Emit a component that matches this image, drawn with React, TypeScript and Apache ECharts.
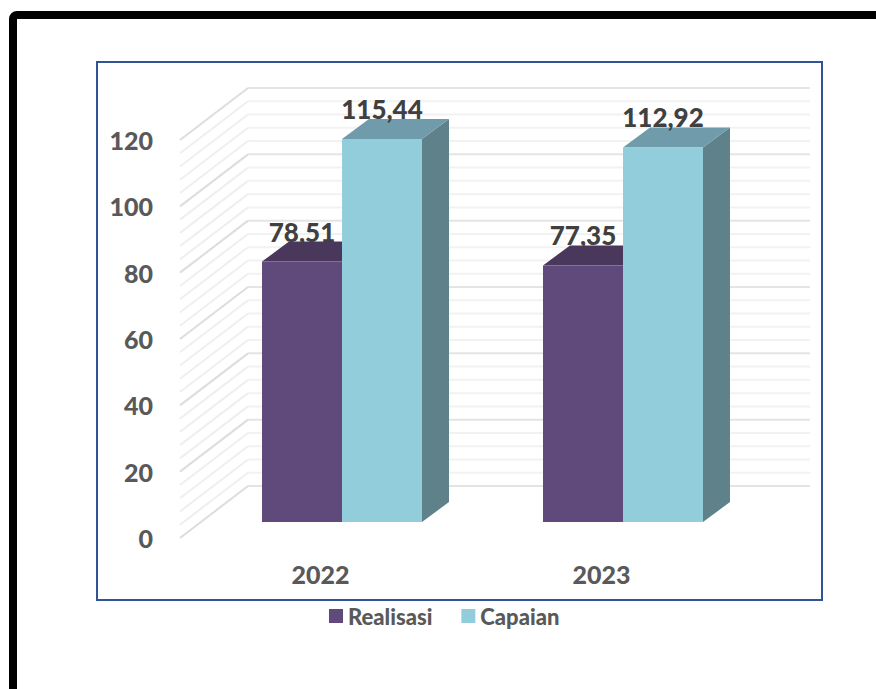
import React, { useEffect, useRef } from "react";
import * as echarts from "echarts";

const categories = ["2022", "2023"];
const realisasi = [78.51, 77.35];
const capaian = [115.44, 112.92];
const majorLevels = [0, 20, 40, 60, 80, 100, 120];
const minorLevels = [
  4, 8, 12, 16, 24, 28, 32, 36, 44, 48, 52, 56, 64, 68, 72, 76, 84, 88, 92, 96, 104, 108, 112, 116,
];

const FONT = "Lato";
const WALL_DX = 68;
const WALL_DY = -52;
const BAR_INSET_DX = 21.5;
const BAR_INSET_DY = -16;
const BAR_DX = 27;
const BAR_DY = -20;
const BAR_WIDTH = 80;

const formatValue = (v: number) => v.toFixed(2).replace(".", ",");

// Side wall diagonal plus back wall horizontal for one value level.
function wallRenderer(color: string, diagColor: string, width: number) {
  return (params: any, api: any) => {
    const cs = params.coordSys;
    const y = api.coord([0, api.value(1)])[1];
    const left = cs.x;
    const right = cs.x + cs.width + WALL_DX;
    return {
      type: "group",
      silent: true,
      children: [
        {
          type: "line",
          shape: { x1: left, y1: y, x2: left + WALL_DX, y2: y + WALL_DY },
          style: { stroke: diagColor, lineWidth: width, fill: "none" },
        },
        {
          type: "line",
          shape: { x1: left + WALL_DX, y1: y + WALL_DY, x2: right, y2: y + WALL_DY },
          style: { stroke: color, lineWidth: width, fill: "none" },
        },
      ],
    };
  };
}

// Extruded bar: front face, top and side faces, with the value above it.
function barRenderer(slot: number, front: string, top: string, side: string) {
  return (_params: any, api: any) => {
    const idx = api.value(0);
    const val = api.value(1);
    const [cx, yTop] = api.coord([idx, val]);
    const [, yBase] = api.coord([idx, 0]);
    const x0 = cx + BAR_INSET_DX + slot * BAR_WIDTH;
    const x1 = x0 + BAR_WIDTH;
    const yt = yTop + BAR_INSET_DY;
    const yb = yBase + BAR_INSET_DY;
    return {
      type: "group",
      children: [
        {
          type: "polygon",
          shape: { points: [[x1, yt], [x1 + BAR_DX, yt + BAR_DY], [x1 + BAR_DX, yb + BAR_DY], [x1, yb]] },
          style: { fill: side },
        },
        {
          type: "polygon",
          shape: { points: [[x0, yt], [x0 + BAR_DX, yt + BAR_DY], [x1 + BAR_DX, yt + BAR_DY], [x1, yt]] },
          style: { fill: top },
        },
        {
          type: "rect",
          shape: { x: x0, y: yt, width: BAR_WIDTH, height: yb - yt },
          style: { fill: front },
        },
        {
          type: "text",
          z2: 50,
          style: {
            x: x0 + BAR_WIDTH / 2,
            y: yt - 30,
            text: formatValue(val),
            align: "center",
            verticalAlign: "middle",
            font: `900 26px ${FONT}`,
            fill: "#404040",
          },
        },
      ],
    };
  };
}

export default function App() {
  const ref = useRef<HTMLDivElement>(null);

  useEffect(() => {
    const chart = echarts.init(ref.current!, null, { renderer: "svg" });
    chart.setOption({
      animation: false,
      backgroundColor: "#ffffff",
      grid: { left: 180, top: 140, width: 562, height: 398, containLabel: false },
      xAxis: {
        type: "category",
        data: categories,
        axisLine: { show: false },
        axisTick: { show: false },
        axisLabel: {
          margin: 23,
          color: "#595959",
          fontFamily: FONT,
          fontWeight: 900,
          fontSize: 25,
        },
      },
      yAxis: {
        type: "value",
        min: 0,
        max: 120,
        interval: 20,
        splitLine: { show: false },
        axisLine: { show: false },
        axisTick: { show: false },
        axisLabel: {
          margin: 27,
          color: "#595959",
          fontFamily: FONT,
          fontWeight: 900,
          fontSize: 25,
        },
      },
      legend: {
        data: ["Realisasi", "Capaian"],
        left: 324,
        top: 600,
        icon: "rect",
        itemWidth: 14,
        itemHeight: 14,
        itemGap: 29,
        selectedMode: false,
        textStyle: {
          color: "#595959",
          fontFamily: FONT,
          fontWeight: 900,
          fontSize: 22,
          padding: [0, 0, 0, 0],
        },
      },
      graphic: [
        {
          type: "rect",
          z: 0,
          silent: true,
          shape: { x: 13, y: 15, width: 1000, height: 1000, r: 4 },
          style: { fill: "none", stroke: "#000000", lineWidth: 8 },
        },
        {
          type: "rect",
          z: 0,
          silent: true,
          shape: { x: 97, y: 62, width: 725, height: 538 },
          style: { fill: "none", stroke: "#2F5597", lineWidth: 2 },
        },
      ],
      series: [
        {
          type: "custom",
          name: "minor",
          z: 1,
          renderItem: wallRenderer("#f2f2f2", "#efefef", 2),
          data: minorLevels.map((v) => [0, v]),
        },
        {
          type: "custom",
          name: "major",
          z: 2,
          renderItem: wallRenderer("#e4e4e4", "#dddddd", 2),
          data: majorLevels.map((v) => [0, v]),
        },
        {
          type: "custom",
          name: "Realisasi",
          z: 3,
          itemStyle: { color: "#604A7B" },
          renderItem: barRenderer(-1, "#604A7B", "#4A375C", "#4A375C"),
          data: realisasi.map((v, i) => [i, v]),
        },
        {
          type: "custom",
          name: "Capaian",
          z: 4,
          itemStyle: { color: "#92CDDC" },
          renderItem: barRenderer(0, "#92CDDC", "#6F9BAA", "#5E818A"),
          data: capaian.map((v, i) => [i, v]),
        },
      ],
    });
    return () => chart.dispose();
  }, []);

  return (
    <div
      ref={ref}
      style={{ position: "fixed", left: 0, top: 0, width: 876, height: 689 }}
    />
  );
}
